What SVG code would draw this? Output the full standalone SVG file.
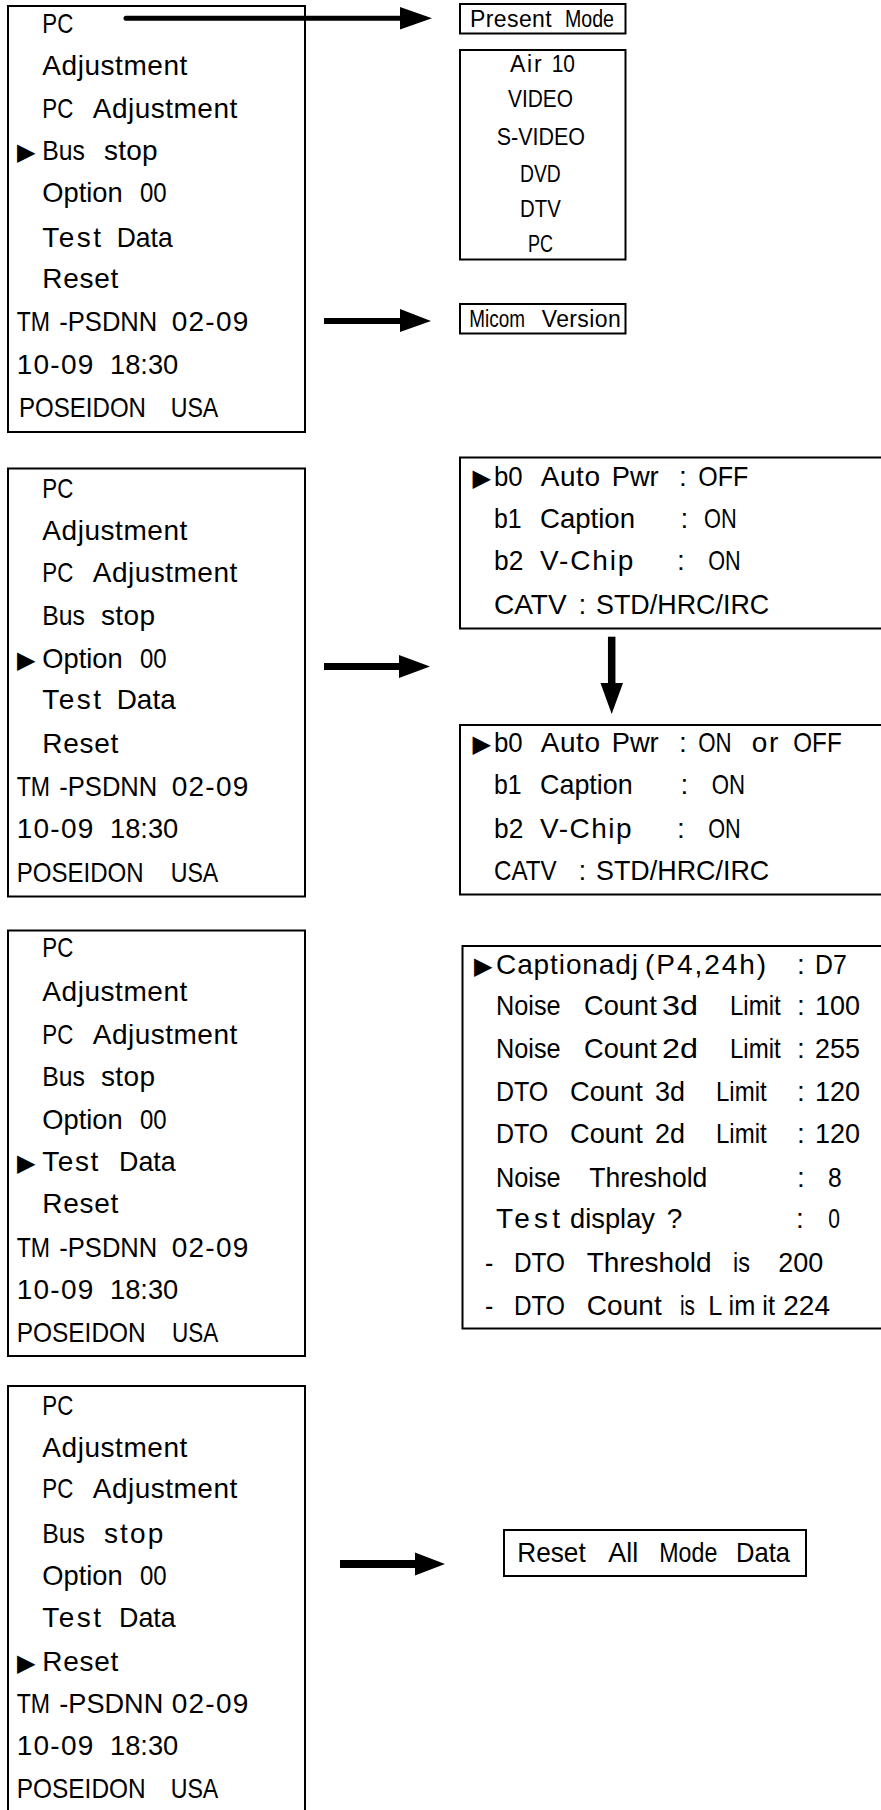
<svg xmlns="http://www.w3.org/2000/svg" width="881" height="1810" viewBox="0 0 881 1810">
<style>
.bg{fill:#fff}
.box{fill:#fff;stroke:#000;stroke-width:2}
.t{font-family:"Liberation Sans",Arial,sans-serif;font-size:28px;fill:#000}
.s{font-size:23px}
.tri{font-family:"DejaVu Sans",sans-serif;font-size:24px;fill:#000}
.shaft{stroke:#000;fill:none}
.head{fill:#000;stroke:none}
</style>
<rect class="bg" x="0" y="0" width="881" height="1810"/>

<g id="menu1">
<rect class="box" x="8" y="6" width="297" height="426"/>
<text class="t" y="33"><tspan x="42.3" textLength="31" lengthAdjust="spacingAndGlyphs">PC</tspan></text>
<text class="t" y="75"><tspan x="42.3" textLength="145" lengthAdjust="spacing">Adjustment</tspan></text>
<text class="t" y="118"><tspan x="42.3" textLength="31" lengthAdjust="spacingAndGlyphs">PC</tspan> <tspan x="92.7" textLength="144.6" lengthAdjust="spacing">Adjustment</tspan></text>
<text class="t" y="160"><tspan class="tri" x="17">▶</tspan><tspan x="42.3" textLength="42.7" lengthAdjust="spacingAndGlyphs">Bus</tspan> <tspan x="104" textLength="53.7" lengthAdjust="spacing">stop</tspan></text>
<text class="t" y="202"><tspan x="42.3" textLength="80.4" lengthAdjust="spacingAndGlyphs">Option</tspan> <tspan x="140" textLength="26.7" lengthAdjust="spacingAndGlyphs">00</tspan></text>
<text class="t" y="247"><tspan x="42.3" textLength="58.7" lengthAdjust="spacing">Test</tspan> <tspan x="116.7" textLength="56" lengthAdjust="spacingAndGlyphs">Data</tspan></text>
<text class="t" y="288"><tspan x="42.3" textLength="76" lengthAdjust="spacing">Reset</tspan></text>
<text class="t" y="331"><tspan x="16.7" textLength="33.3" lengthAdjust="spacingAndGlyphs">TM</tspan> <tspan x="59.3" textLength="98" lengthAdjust="spacingAndGlyphs">-PSDNN</tspan> <tspan x="171.7" textLength="76.6" lengthAdjust="spacing">02-09</tspan></text>
<text class="t" y="374"><tspan x="16.7" textLength="76.6" lengthAdjust="spacing">10-09</tspan> <tspan x="110" textLength="68.3" lengthAdjust="spacingAndGlyphs">18:30</tspan></text>
<text class="t" y="417"><tspan x="19" textLength="127" lengthAdjust="spacingAndGlyphs">POSEIDON</tspan> <tspan x="170.7" textLength="47.6" lengthAdjust="spacingAndGlyphs">USA</tspan></text>
</g>

<g id="present-mode">
<rect class="box" x="460" y="4" width="165.5" height="29.5"/>
<text class="t s" y="26.7"><tspan x="470" textLength="81.7" lengthAdjust="spacing">Present</tspan> <tspan x="565" textLength="49" lengthAdjust="spacingAndGlyphs">Mode</tspan></text>
</g>

<g id="modes">
<rect class="box" x="460" y="50" width="165.5" height="209.5"/>
<text class="t s" y="71.7"><tspan x="510" textLength="31.7" lengthAdjust="spacing">Air</tspan> <tspan x="551.7" textLength="23.3" lengthAdjust="spacingAndGlyphs">10</tspan></text>
<text class="t s" y="106.7"><tspan x="508" textLength="65" lengthAdjust="spacingAndGlyphs">VIDEO</tspan></text>
<text class="t s" y="145"><tspan x="496.7" textLength="88.3" lengthAdjust="spacingAndGlyphs">S-VIDEO</tspan></text>
<text class="t s" y="181.7"><tspan x="520" textLength="40.7" lengthAdjust="spacingAndGlyphs">DVD</tspan></text>
<text class="t s" y="216.7"><tspan x="520" textLength="40.7" lengthAdjust="spacingAndGlyphs">DTV</tspan></text>
<text class="t s" y="251.7"><tspan x="528" textLength="25" lengthAdjust="spacingAndGlyphs">PC</tspan></text>
</g>

<g id="micom-version">
<rect class="box" x="460" y="304" width="165.5" height="29.5"/>
<text class="t s" y="326.7"><tspan x="469.3" textLength="55.7" lengthAdjust="spacingAndGlyphs">Micom</tspan> <tspan x="541.7" textLength="79" lengthAdjust="spacing">Version</tspan></text>
</g>

<g id="menu2">
<rect class="box" x="8" y="468.5" width="297" height="428"/>
<text class="t" y="498.3"><tspan x="42.3" textLength="31" lengthAdjust="spacingAndGlyphs">PC</tspan></text>
<text class="t" y="540"><tspan x="42.3" textLength="145" lengthAdjust="spacing">Adjustment</tspan></text>
<text class="t" y="581.7"><tspan x="42.3" textLength="31" lengthAdjust="spacingAndGlyphs">PC</tspan> <tspan x="92.7" textLength="144.6" lengthAdjust="spacing">Adjustment</tspan></text>
<text class="t" y="625"><tspan x="42.3" textLength="42.7" lengthAdjust="spacingAndGlyphs">Bus</tspan> <tspan x="101" textLength="54" lengthAdjust="spacing">stop</tspan></text>
<text class="t" y="668.3"><tspan class="tri" x="17">▶</tspan><tspan x="42.3" textLength="80.4" lengthAdjust="spacingAndGlyphs">Option</tspan> <tspan x="140" textLength="26.7" lengthAdjust="spacingAndGlyphs">00</tspan></text>
<text class="t" y="709.3"><tspan x="42.3" textLength="58.7" lengthAdjust="spacing">Test</tspan> <tspan x="116.7" textLength="59" lengthAdjust="spacingAndGlyphs">Data</tspan></text>
<text class="t" y="753.3"><tspan x="42.3" textLength="76" lengthAdjust="spacing">Reset</tspan></text>
<text class="t" y="795.7"><tspan x="16.7" textLength="33.3" lengthAdjust="spacingAndGlyphs">TM</tspan> <tspan x="59.3" textLength="98" lengthAdjust="spacingAndGlyphs">-PSDNN</tspan> <tspan x="171.7" textLength="76.6" lengthAdjust="spacing">02-09</tspan></text>
<text class="t" y="838.3"><tspan x="16.7" textLength="76.6" lengthAdjust="spacing">10-09</tspan> <tspan x="110" textLength="68.3" lengthAdjust="spacingAndGlyphs">18:30</tspan></text>
<text class="t" y="881.7"><tspan x="16.7" textLength="127" lengthAdjust="spacingAndGlyphs">POSEIDON</tspan> <tspan x="170.7" textLength="47.6" lengthAdjust="spacingAndGlyphs">USA</tspan></text>
</g>

<g id="option-off">
<rect class="box" x="460" y="457.5" width="430" height="171"/>
<text class="t" y="486"><tspan class="tri" x="472.5">▶</tspan><tspan x="494" textLength="28.7" lengthAdjust="spacingAndGlyphs">b0</tspan> <tspan x="540.7" textLength="59.3" lengthAdjust="spacing">Auto</tspan> <tspan x="611.7" textLength="47" lengthAdjust="spacingAndGlyphs">Pwr</tspan> <tspan x="679">:</tspan><tspan x="698.3" textLength="50" lengthAdjust="spacingAndGlyphs">OFF</tspan></text>
<text class="t" y="528.3"><tspan x="494" textLength="27.7" lengthAdjust="spacingAndGlyphs">b1</tspan> <tspan x="540" textLength="95" lengthAdjust="spacingAndGlyphs">Caption</tspan> <tspan x="680.5">:</tspan> <tspan x="704" textLength="32.7" lengthAdjust="spacingAndGlyphs">ON</tspan></text>
<text class="t" y="570"><tspan x="494" textLength="29.3" lengthAdjust="spacingAndGlyphs">b2</tspan> <tspan x="540" textLength="93.3" lengthAdjust="spacing">V-Chip</tspan> <tspan x="677">:</tspan> <tspan x="708.3" textLength="32.4" lengthAdjust="spacingAndGlyphs">ON</tspan></text>
<text class="t" y="614"><tspan x="494" textLength="72.7" lengthAdjust="spacingAndGlyphs">CATV</tspan><tspan x="578.5">:</tspan><tspan x="596" textLength="173.3" lengthAdjust="spacingAndGlyphs">STD/HRC/IRC</tspan></text>
</g>

<g id="option-select">
<rect class="box" x="460" y="725" width="430" height="169.5"/>
<text class="t" y="751.7"><tspan class="tri" x="472.5">▶</tspan><tspan x="494" textLength="28.7" lengthAdjust="spacingAndGlyphs">b0</tspan> <tspan x="540.7" textLength="59.3" lengthAdjust="spacing">Auto</tspan> <tspan x="611.7" textLength="47" lengthAdjust="spacingAndGlyphs">Pwr</tspan> <tspan x="679">:</tspan><tspan x="698.3" textLength="33.4" lengthAdjust="spacingAndGlyphs">ON</tspan> <tspan x="751.7" textLength="26.6" lengthAdjust="spacing">or</tspan> <tspan x="793.3" textLength="48.4" lengthAdjust="spacingAndGlyphs">OFF</tspan></text>
<text class="t" y="794"><tspan x="494" textLength="27.7" lengthAdjust="spacingAndGlyphs">b1</tspan> <tspan x="540" textLength="92.7" lengthAdjust="spacingAndGlyphs">Caption</tspan> <tspan x="680.5">:</tspan> <tspan x="711.7" textLength="33.3" lengthAdjust="spacingAndGlyphs">ON</tspan></text>
<text class="t" y="838.3"><tspan x="494" textLength="29.3" lengthAdjust="spacingAndGlyphs">b2</tspan> <tspan x="540" textLength="91.7" lengthAdjust="spacing">V-Chip</tspan> <tspan x="677">:</tspan> <tspan x="708.3" textLength="32.4" lengthAdjust="spacingAndGlyphs">ON</tspan></text>
<text class="t" y="880"><tspan x="494" textLength="62.7" lengthAdjust="spacingAndGlyphs">CATV</tspan> <tspan x="578.5">:</tspan><tspan x="596" textLength="173.3" lengthAdjust="spacingAndGlyphs">STD/HRC/IRC</tspan></text>
</g>

<g id="menu3">
<rect class="box" x="8" y="930.5" width="297" height="425.5"/>
<text class="t" y="957.3"><tspan x="42.3" textLength="31" lengthAdjust="spacingAndGlyphs">PC</tspan></text>
<text class="t" y="1001"><tspan x="42.3" textLength="145" lengthAdjust="spacing">Adjustment</tspan></text>
<text class="t" y="1044"><tspan x="42.3" textLength="31" lengthAdjust="spacingAndGlyphs">PC</tspan> <tspan x="92.7" textLength="144.6" lengthAdjust="spacing">Adjustment</tspan></text>
<text class="t" y="1085.7"><tspan x="42.3" textLength="42.7" lengthAdjust="spacingAndGlyphs">Bus</tspan> <tspan x="101" textLength="54" lengthAdjust="spacing">stop</tspan></text>
<text class="t" y="1129.3"><tspan x="42.3" textLength="80.4" lengthAdjust="spacingAndGlyphs">Option</tspan> <tspan x="140" textLength="26.7" lengthAdjust="spacingAndGlyphs">00</tspan></text>
<text class="t" y="1170.7"><tspan class="tri" x="17">▶</tspan><tspan x="42.3" textLength="56" lengthAdjust="spacing">Test</tspan> <tspan x="119" textLength="56.7" lengthAdjust="spacingAndGlyphs">Data</tspan></text>
<text class="t" y="1213.3"><tspan x="42.3" textLength="76" lengthAdjust="spacing">Reset</tspan></text>
<text class="t" y="1257.3"><tspan x="16.7" textLength="33.3" lengthAdjust="spacingAndGlyphs">TM</tspan> <tspan x="59.3" textLength="98" lengthAdjust="spacingAndGlyphs">-PSDNN</tspan> <tspan x="171.7" textLength="76.6" lengthAdjust="spacing">02-09</tspan></text>
<text class="t" y="1299.3"><tspan x="16.7" textLength="76.6" lengthAdjust="spacing">10-09</tspan> <tspan x="110" textLength="68.3" lengthAdjust="spacingAndGlyphs">18:30</tspan></text>
<text class="t" y="1341.7"><tspan x="16.7" textLength="129" lengthAdjust="spacingAndGlyphs">POSEIDON</tspan> <tspan x="172" textLength="46.3" lengthAdjust="spacingAndGlyphs">USA</tspan></text>
</g>

<g id="test-data">
<rect class="box" x="462.5" y="946" width="430" height="382.5"/>
<text class="t" y="974"><tspan class="tri" x="474">▶</tspan><tspan x="496" textLength="142" lengthAdjust="spacing">Captionadj</tspan><tspan x="645" textLength="121" lengthAdjust="spacing">(P4,24h)</tspan> <tspan x="797">:</tspan><tspan x="815" textLength="31.7" lengthAdjust="spacingAndGlyphs">D7</tspan></text>
<text class="t" y="1015"><tspan x="496" textLength="64.7" lengthAdjust="spacingAndGlyphs">Noise</tspan> <tspan x="584" textLength="72.7" lengthAdjust="spacingAndGlyphs">Count</tspan> <tspan x="662" textLength="36" lengthAdjust="spacingAndGlyphs">3d</tspan> <tspan x="730" textLength="50.7" lengthAdjust="spacingAndGlyphs">Limit</tspan> <tspan x="797">:</tspan><tspan x="815" textLength="45" lengthAdjust="spacingAndGlyphs">100</tspan></text>
<text class="t" y="1058.3"><tspan x="496" textLength="64.7" lengthAdjust="spacingAndGlyphs">Noise</tspan> <tspan x="584" textLength="72.7" lengthAdjust="spacingAndGlyphs">Count</tspan> <tspan x="662" textLength="36" lengthAdjust="spacingAndGlyphs">2d</tspan> <tspan x="730" textLength="50.7" lengthAdjust="spacingAndGlyphs">Limit</tspan> <tspan x="797">:</tspan><tspan x="815" textLength="45" lengthAdjust="spacingAndGlyphs">255</tspan></text>
<text class="t" y="1101"><tspan x="496" textLength="52.3" lengthAdjust="spacingAndGlyphs">DTO</tspan> <tspan x="570" textLength="72.7" lengthAdjust="spacingAndGlyphs">Count</tspan> <tspan x="655" textLength="30" lengthAdjust="spacingAndGlyphs">3d</tspan> <tspan x="716" textLength="50.7" lengthAdjust="spacingAndGlyphs">Limit</tspan> <tspan x="797">:</tspan><tspan x="815" textLength="45" lengthAdjust="spacingAndGlyphs">120</tspan></text>
<text class="t" y="1142.7"><tspan x="496" textLength="52.3" lengthAdjust="spacingAndGlyphs">DTO</tspan> <tspan x="570" textLength="72.7" lengthAdjust="spacingAndGlyphs">Count</tspan> <tspan x="655" textLength="30" lengthAdjust="spacingAndGlyphs">2d</tspan> <tspan x="716" textLength="50.7" lengthAdjust="spacingAndGlyphs">Limit</tspan> <tspan x="797">:</tspan><tspan x="815" textLength="45" lengthAdjust="spacingAndGlyphs">120</tspan></text>
<text class="t" y="1186.7"><tspan x="496" textLength="64.7" lengthAdjust="spacingAndGlyphs">Noise</tspan> <tspan x="589.3" textLength="118" lengthAdjust="spacingAndGlyphs">Threshold</tspan> <tspan x="797">:</tspan> <tspan x="828" textLength="13.7" lengthAdjust="spacingAndGlyphs">8</tspan></text>
<text class="t" y="1228.3"><tspan x="496" textLength="64" lengthAdjust="spacing">Test</tspan> <tspan x="570" textLength="85" lengthAdjust="spacingAndGlyphs">display</tspan> <tspan x="666.7" textLength="16.6" lengthAdjust="spacing">?</tspan> <tspan x="796">:</tspan> <tspan x="828.3" textLength="11.7" lengthAdjust="spacingAndGlyphs">0</tspan></text>
<text class="t" y="1271.7"><tspan x="485" textLength="8.3" lengthAdjust="spacingAndGlyphs">-</tspan> <tspan x="514" textLength="51" lengthAdjust="spacingAndGlyphs">DTO</tspan> <tspan x="586.7" textLength="125" lengthAdjust="spacing">Threshold</tspan> <tspan x="733" textLength="17" lengthAdjust="spacingAndGlyphs">is</tspan> <tspan x="778.3" textLength="45" lengthAdjust="spacingAndGlyphs">200</tspan></text>
<text class="t" y="1315"><tspan x="485" textLength="8.3" lengthAdjust="spacingAndGlyphs">-</tspan> <tspan x="514" textLength="51" lengthAdjust="spacingAndGlyphs">DTO</tspan> <tspan x="586.7" textLength="75" lengthAdjust="spacing">Count</tspan> <tspan x="680" textLength="15" lengthAdjust="spacingAndGlyphs">is</tspan> <tspan x="708.3" textLength="66.7" lengthAdjust="spacingAndGlyphs">L im it</tspan> <tspan x="783.3" textLength="46.7" lengthAdjust="spacing">224</tspan></text>
</g>

<g id="menu4">
<rect class="box" x="8" y="1386" width="297" height="440"/>
<text class="t" y="1415"><tspan x="42.3" textLength="31" lengthAdjust="spacingAndGlyphs">PC</tspan></text>
<text class="t" y="1457.3"><tspan x="42.3" textLength="145" lengthAdjust="spacing">Adjustment</tspan></text>
<text class="t" y="1498.3"><tspan x="42.3" textLength="31" lengthAdjust="spacingAndGlyphs">PC</tspan> <tspan x="92.7" textLength="144.6" lengthAdjust="spacing">Adjustment</tspan></text>
<text class="t" y="1542.7"><tspan x="42.3" textLength="42.7" lengthAdjust="spacingAndGlyphs">Bus</tspan> <tspan x="104" textLength="59.3" lengthAdjust="spacing">stop</tspan></text>
<text class="t" y="1585"><tspan x="42.3" textLength="80.4" lengthAdjust="spacingAndGlyphs">Option</tspan> <tspan x="140" textLength="26.7" lengthAdjust="spacingAndGlyphs">00</tspan></text>
<text class="t" y="1626.7"><tspan x="42.3" textLength="58.7" lengthAdjust="spacing">Test</tspan> <tspan x="119" textLength="56.7" lengthAdjust="spacingAndGlyphs">Data</tspan></text>
<text class="t" y="1671"><tspan class="tri" x="17">▶</tspan><tspan x="42.3" textLength="76" lengthAdjust="spacing">Reset</tspan></text>
<text class="t" y="1712.7"><tspan x="16.7" textLength="33.3" lengthAdjust="spacingAndGlyphs">TM</tspan> <tspan x="59.3" textLength="104" lengthAdjust="spacingAndGlyphs">-PSDNN</tspan><tspan x="171.7" textLength="76.6" lengthAdjust="spacing">02-09</tspan></text>
<text class="t" y="1755"><tspan x="16.7" textLength="76.6" lengthAdjust="spacing">10-09</tspan> <tspan x="110" textLength="68.3" lengthAdjust="spacingAndGlyphs">18:30</tspan></text>
<text class="t" y="1798.3"><tspan x="16.7" textLength="129" lengthAdjust="spacingAndGlyphs">POSEIDON</tspan> <tspan x="170.7" textLength="47.6" lengthAdjust="spacingAndGlyphs">USA</tspan></text>
</g>

<g id="reset-all">
<rect class="box" x="504" y="1530" width="302" height="46"/>
<text class="t" y="1561.7"><tspan x="517.3" textLength="68.4" lengthAdjust="spacingAndGlyphs">Reset</tspan> <tspan x="608.3" textLength="30" lengthAdjust="spacingAndGlyphs">All</tspan> <tspan x="659.3" textLength="58" lengthAdjust="spacingAndGlyphs">Mode</tspan> <tspan x="736" textLength="54" lengthAdjust="spacingAndGlyphs">Data</tspan></text>
</g>

<g id="connectors">
<line class="shaft" x1="126" y1="18.3" x2="402" y2="18.3" stroke-width="5" stroke-linecap="round"/>
<polygon class="head" points="400,7 432,18.3 400,29.5"/>
<line class="shaft" x1="324" y1="321" x2="402" y2="321" stroke-width="6"/>
<polygon class="head" points="400,309 431,321 400,332"/>
<line class="shaft" x1="324" y1="666.5" x2="401" y2="666.5" stroke-width="7"/>
<polygon class="head" points="399,655 430,666.5 399,678"/>
<line class="shaft" x1="611.7" y1="636.7" x2="611.7" y2="685" stroke-width="7.5"/>
<polygon class="head" points="600.5,683 623,683 611.7,714"/>
<line class="shaft" x1="340" y1="1564" x2="417" y2="1564" stroke-width="8"/>
<polygon class="head" points="415,1552.5 445,1564 415,1575.5"/>
</g>
</svg>
